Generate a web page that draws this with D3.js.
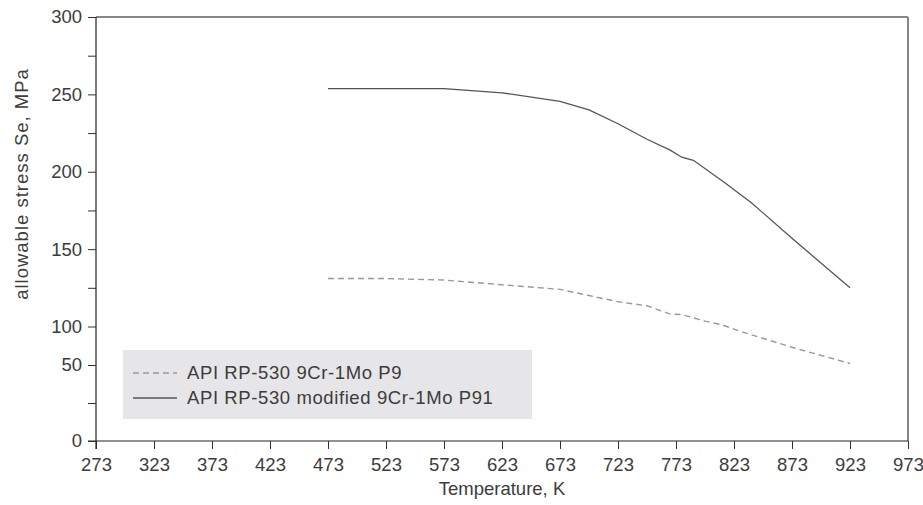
<!DOCTYPE html>
<html>
<head>
<meta charset="utf-8">
<script src="https://cdn.jsdelivr.net/npm/d3@7"></script>
<style>
  body { margin: 0; background: #fff; }
  text { font-family: "Liberation Sans", Arial, sans-serif; fill: #3c3c3c; }
</style>
</head>
<body>
<script>
// allowable stress vs temperature

var xTicks = [273, 323, 373, 423, 473, 523, 573, 623, 673, 723, 773, 823, 873, 923, 973];
var yTicks = [0, 50, 100, 150, 200, 250, 300];
var yMinorTicks = [25, 125, 175, 225, 275];

var p9Temp = [473, 523, 573, 623, 673, 698, 723, 748, 768, 778, 798, 813, 830, 873, 923];
var p9Stress = [131, 131, 130, 127, 124, 120, 116, 113.4, 108, 107.7, 103.5, 101, 93, 73, 52];

var p91Temp = [473, 523, 573, 623, 673, 698, 723, 748, 768, 778, 788, 813, 838, 873, 923];
var p91Stress = [253.7, 253.7, 253.7, 251, 245.5, 240, 231, 221, 214, 209.4, 207.4, 194, 180, 157, 125];

var seriesNames = ["API RP-530 9Cr-1Mo P9", "API RP-530 modified 9Cr-1Mo P91"];

var svgWidth = 923;
var svgHeight = 505;

// plot box (window.top is reserved, so use plot* names)
var plotLeft = 96, plotRight = 908, plotTop = 17, plotBottom = 441;
var fontSize = "18.5px";

var svg = d3.select("body")
  .append("svg")
  .attr("width", svgWidth)
  .attr("height", svgHeight);

var x = d3.scaleLinear().domain([273, 973]).range([plotLeft, plotRight]);
// the y axis is not uniform below 100
var y = d3.scaleLinear().domain([0, 50, 100, 300]).range([plotBottom, 365, 326.5, plotTop]);

// frame on top and right
svg.append("line")
  .attr("x1", plotLeft).attr("x2", plotRight)
  .attr("y1", plotTop).attr("y2", plotTop)
  .attr("stroke", "#888").attr("stroke-width", 2);
svg.append("line")
  .attr("x1", plotRight).attr("x2", plotRight)
  .attr("y1", plotTop).attr("y2", plotBottom)
  .attr("stroke", "#888").attr("stroke-width", 2);

// x axis
var xAxis = svg.append("g")
  .attr("transform", "translate(0," + plotBottom + ")")
  .call(d3.axisBottom(x).tickValues(xTicks).tickFormat(d3.format("d")).tickSizeOuter(0).tickSize(8).tickPadding(9));

// y axis
var yAxis = svg.append("g")
  .attr("transform", "translate(" + plotLeft + ",0)")
  .call(d3.axisLeft(y).tickValues(yTicks).tickSizeOuter(0).tickSize(8).tickPadding(6));

svg.append("g")
  .attr("transform", "translate(" + plotLeft + ",0)")
  .call(d3.axisLeft(y).tickValues(yMinorTicks).tickFormat("").tickSizeOuter(0).tickSize(8))
  .select(".domain").remove();

svg.selectAll(".domain").attr("stroke", "#222").attr("stroke-width", 1.2);
svg.selectAll(".tick line").attr("stroke", "#333");
svg.selectAll(".tick text")
  .style("font-family", "Liberation Sans, Arial, sans-serif")
  .style("font-size", fontSize)
  .attr("fill", "#3c3c3c");

// extend axis lines past the corner
xAxis.select(".domain").attr("d", "M" + (plotLeft - 8) + ",0H" + plotRight);
yAxis.select(".domain").attr("d", "M0," + plotTop + "V" + (plotBottom + 8));

// axis titles
svg.append("text")
  .attr("x", (plotLeft + plotRight) / 2)
  .attr("y", 495)
  .attr("text-anchor", "middle")
  .style("font-size", fontSize)
  .text("Temperature, K");

svg.append("text")
  .attr("transform", "translate(28,184) rotate(-90)")
  .attr("text-anchor", "middle")
  .style("font-size", fontSize)
  .style("letter-spacing", "1px")
  .text("allowable stress Se, MPa");

// lines
var line = d3.line()
  .x(function(d) { return x(d[0]); })
  .y(function(d) { return y(d[1]); });

var p9Data = p9Temp.map(function(t, i) { return [t, p9Stress[i]]; });
var p91Data = p91Temp.map(function(t, i) { return [t, p91Stress[i]]; });

svg.append("path")
  .datum(p9Data)
  .attr("d", line)
  .attr("fill", "none")
  .attr("stroke", "#999")
  .attr("stroke-width", 1.4)
  .attr("stroke-dasharray", "6,4");

svg.append("path")
  .datum(p91Data)
  .attr("d", line)
  .attr("fill", "none")
  .attr("stroke", "#555")
  .attr("stroke-width", 1.3);

// legend
var legend = svg.append("g").attr("transform", "translate(123,350)");
legend.append("rect")
  .attr("width", 409).attr("height", 69)
  .attr("fill", "#e6e6e8");

var legendStyles = [{ color: "#999", dash: "6,4" }, { color: "#555", dash: null }];

seriesNames.forEach(function(name, i) {
  var ly = 23 + i * 25;
  legend.append("line")
    .attr("x1", 10).attr("x2", 54)
    .attr("y1", ly).attr("y2", ly)
    .attr("stroke", legendStyles[i].color)
    .attr("stroke-width", 1.3)
    .attr("stroke-dasharray", legendStyles[i].dash);
  legend.append("text")
    .attr("x", 64)
    .attr("y", ly + 6)
    .style("font-size", fontSize)
    .style("letter-spacing", "0.6px")
    .text(name);
});
</script>
</body>
</html>
